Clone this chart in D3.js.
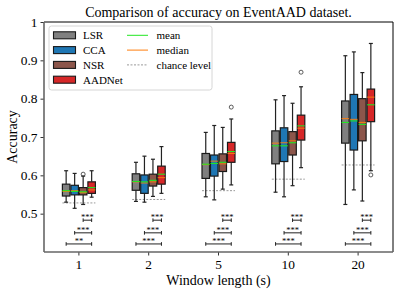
<!DOCTYPE html>
<html>
<head>
<meta charset="utf-8">
<script src="https://cdn.jsdelivr.net/npm/d3@7"></script>
<style>
  body { margin: 0; background: #fff; }
  text { font-family: "Liberation Serif", "Times New Roman", serif; }
</style>
</head>
<body>
<svg id="chart" width="399" height="292"></svg>
<script>
// window lengths and methods
var windows = ["1", "2", "5", "10", "20"];
var methods = ["LSR", "CCA", "NSR", "AADNet"];
var methodColors = ["#808080", "#1f77b4", "#8c564b", "#d62728"];

// [whisker low, q1, median, q3, whisker high, mean] for each window
var lsrStats = [
	[0.530, 0.546, 0.558, 0.577, 0.612, 0.560],
	[0.532, 0.561, 0.583, 0.604, 0.634, 0.584],
	[0.544, 0.592, 0.628, 0.657, 0.712, 0.629],
	[0.556, 0.630, 0.684, 0.716, 0.797, 0.677],
	[0.524, 0.684, 0.748, 0.794, 0.912, 0.738]
];
var ccaStats = [
	[0.514, 0.549, 0.560, 0.574, 0.605, 0.558],
	[0.530, 0.553, 0.580, 0.601, 0.650, 0.583],
	[0.536, 0.598, 0.637, 0.653, 0.730, 0.631],
	[0.544, 0.636, 0.685, 0.724, 0.808, 0.677],
	[0.562, 0.666, 0.746, 0.811, 0.922, 0.742]
];
var nsrStats = [
	[0.524, 0.549, 0.555, 0.568, 0.598, 0.557],
	[0.545, 0.572, 0.583, 0.603, 0.642, 0.587],
	[0.564, 0.610, 0.630, 0.656, 0.725, 0.634],
	[0.573, 0.653, 0.690, 0.714, 0.788, 0.685],
	[0.533, 0.690, 0.738, 0.800, 0.868, 0.733]
];
var aadnetStats = [
	[0.543, 0.553, 0.562, 0.583, 0.612, 0.568],
	[0.553, 0.577, 0.594, 0.624, 0.675, 0.603],
	[0.575, 0.634, 0.657, 0.686, 0.747, 0.662],
	[0.620, 0.692, 0.723, 0.757, 0.831, 0.729],
	[0.612, 0.740, 0.804, 0.825, 0.944, 0.784]
];
// outliers: [window index, method index, value]
var outliers = [
	[0, 2, 0.603],
	[2, 3, 0.778],
	[3, 3, 0.869],
	[4, 3, 0.601]
];
var chanceLevel = [0.528, 0.537, 0.560, 0.590, 0.627];

// significance vs AADNet: [LSR, CCA, NSR] per window
var sigLabels = [
	["**", "***", "***"],
	["***", "***", "***"],
	["***", "***", "***"],
	["***", "***", "***"],
	["***", "***", "***"]
];
var sigLevels = [0.421, 0.450, 0.483];
var yTicks = [0.5, 0.6, 0.7, 0.8, 0.9, 1];

var svg = d3.select("#chart"),
	margin = {left: 44, right: 6, top: 22, bottom: 40},
	width = +svg.attr("width"),
	height = +svg.attr("height");

var x = d3.scaleBand().domain(windows)
	.range([margin.left, width - margin.right]).padding(0);
var inner = d3.scaleBand().domain(methods).range([-17, 17]).padding(0);
var y = d3.scaleLinear().domain([0.4, 1]).range([height - margin.bottom, margin.top]);

var allStats = [lsrStats, ccaStats, nsrStats, aadnetStats];
var boxW = inner.bandwidth() - 1;

function cx(wi, mi) {
	return x(windows[wi]) + x.bandwidth() / 2 + inner(methods[mi]) + inner.bandwidth() / 2;
}

// axes
var gx = svg.append("g").attr("transform", "translate(0," + (height - margin.bottom) + ")")
	.call(d3.axisBottom(x).tickSize(3.5).tickPadding(4));
var gy = svg.append("g").attr("transform", "translate(" + margin.left + ",0)")
	.call(d3.axisLeft(y).tickValues(yTicks).tickFormat(d3.format("")).tickSize(3.5).tickPadding(3));
[gx, gy].forEach(function(g) {
	g.select(".domain").remove();
	g.selectAll(".tick line").attr("stroke", "#333").attr("stroke-width", 1);
	g.selectAll(".tick text").attr("font-size", 13.4).attr("fill", "#000")
		.style("font-family", "'Liberation Serif', serif");
});

// chance level
var gChance = svg.append("g");
chanceLevel.forEach(function(v, wi) {
	gChance.append("line")
		.attr("x1", cx(wi, 0) - boxW / 2).attr("x2", cx(wi, 3) + boxW / 2)
		.attr("y1", y(v)).attr("y2", y(v))
		.attr("stroke", "#999").attr("stroke-width", 1).attr("stroke-dasharray", "2,1.5");
});

// boxes
var gBox = svg.append("g");
allStats.forEach(function(stats, mi) {
	stats.forEach(function(s, wi) {
		var c = cx(wi, mi);
		var g = gBox.append("g");
		g.append("line").attr("x1", c).attr("x2", c).attr("y1", y(s[0])).attr("y2", y(s[1]))
			.attr("stroke", "#222").attr("stroke-width", 1.2);
		g.append("line").attr("x1", c).attr("x2", c).attr("y1", y(s[3])).attr("y2", y(s[4]))
			.attr("stroke", "#222").attr("stroke-width", 1.2);
		[s[0], s[4]].forEach(function(v) {
			g.append("line").attr("x1", c - 2).attr("x2", c + 2).attr("y1", y(v)).attr("y2", y(v))
				.attr("stroke", "#222").attr("stroke-width", 1.2);
		});
		g.append("rect").attr("x", c - boxW / 2).attr("width", boxW)
			.attr("y", y(s[3])).attr("height", y(s[1]) - y(s[3]))
			.attr("fill", methodColors[mi]).attr("stroke", "#1a1a1a").attr("stroke-width", 1.2);
		g.append("line").attr("x1", c - boxW / 2).attr("x2", c + boxW / 2)
			.attr("y1", y(s[2])).attr("y2", y(s[2]))
			.attr("stroke", "#ff7f0e").attr("stroke-width", 1.1).attr("opacity", 0.85);
		g.append("line").attr("x1", c - boxW / 2).attr("x2", c + boxW / 2)
			.attr("y1", y(s[5])).attr("y2", y(s[5]))
			.attr("stroke", "#22e622").attr("stroke-width", 1.1);
	});
});

svg.append("g").selectAll("circle").data(outliers).enter().append("circle")
	.attr("cx", function(d) { return cx(d[0], d[1]); })
	.attr("cy", function(d) { return y(d[2]); })
	.attr("r", 2).attr("fill", "none").attr("stroke", "#333").attr("stroke-width", 0.8);

// significance brackets
var gSig = svg.append("g");
sigLabels.forEach(function(labels, wi) {
	labels.forEach(function(lab, k) {
		var x1 = cx(wi, k), x2 = cx(wi, 3), yy = y(sigLevels[k]);
		gSig.append("line").attr("x1", x1).attr("x2", x2).attr("y1", yy).attr("y2", yy)
			.attr("stroke", "#222").attr("stroke-width", 1);
		[x1, x2].forEach(function(xx) {
			gSig.append("line").attr("x1", xx).attr("x2", xx).attr("y1", yy - 1.8).attr("y2", yy + 1.8)
				.attr("stroke", "#222").attr("stroke-width", 1);
		});
		gSig.append("text").attr("x", (x1 + x2) / 2).attr("y", yy - 0.3)
			.attr("text-anchor", "middle").attr("font-size", 8.5).text(lab);
	});
});

// frame
svg.append("line").attr("x1", margin.left).attr("x2", width - margin.right)
	.attr("y1", margin.top).attr("y2", margin.top).attr("stroke", "#000").attr("stroke-width", 1);
svg.append("line").attr("x1", width - margin.right).attr("x2", width - margin.right)
	.attr("y1", margin.top).attr("y2", height - margin.bottom).attr("stroke", "#000").attr("stroke-width", 1);
svg.append("line").attr("x1", margin.left).attr("x2", margin.left)
	.attr("y1", margin.top).attr("y2", height - margin.bottom).attr("stroke", "#666").attr("stroke-width", 1.6);
svg.append("line").attr("x1", margin.left).attr("x2", width - margin.right)
	.attr("y1", height - margin.bottom).attr("y2", height - margin.bottom).attr("stroke", "#666").attr("stroke-width", 1.6);

// title and labels
svg.append("text").attr("x", (margin.left + width - margin.right) / 2).attr("y", 17)
	.attr("text-anchor", "middle").attr("font-size", 14).text("Comparison of accuracy on EventAAD dataset.");
svg.append("text").attr("x", (margin.left + width - margin.right) / 2).attr("y", 285)
	.attr("text-anchor", "middle").attr("font-size", 14).text("Window length (s)");
svg.append("text").attr("transform", "translate(17," + ((margin.top + height - margin.bottom) / 2) + ") rotate(-90)")
	.attr("text-anchor", "middle").attr("font-size", 14).text("Accuracy");

// legend
var leg = svg.append("g");
leg.append("rect").attr("x", 49).attr("y", 26).attr("width", 163).attr("height", 64).attr("rx", 2.5)
	.attr("fill", "#fff").attr("fill-opacity", 0.8).attr("stroke", "#ccc").attr("stroke-width", 0.8);
methods.forEach(function(m, i) {
	var ry = 35.3 + i * 14.8;
	leg.append("rect").attr("x", 53.5).attr("y", ry - 3.5).attr("width", 22).attr("height", 7)
		.attr("fill", methodColors[i]).attr("stroke", "#1a1a1a").attr("stroke-width", 1.1);
	leg.append("text").attr("x", 83).attr("y", ry + 3.8).attr("font-size", 11).text(m);
});
var lineItems = [
	{label: "mean", color: "#22e622", dash: null},
	{label: "median", color: "#ff7f0e", dash: null},
	{label: "chance level", color: "#999", dash: "2,1.5"}
];
lineItems.forEach(function(d, i) {
	var ry = 35.3 + i * 14.8;
	leg.append("line").attr("x1", 127).attr("x2", 148).attr("y1", ry).attr("y2", ry)
		.attr("stroke", d.color).attr("stroke-width", 1).attr("stroke-dasharray", d.dash);
	leg.append("text").attr("x", 156.5).attr("y", ry + 3.8).attr("font-size", 11).text(d.label);
});
</script>
</body>
</html>
